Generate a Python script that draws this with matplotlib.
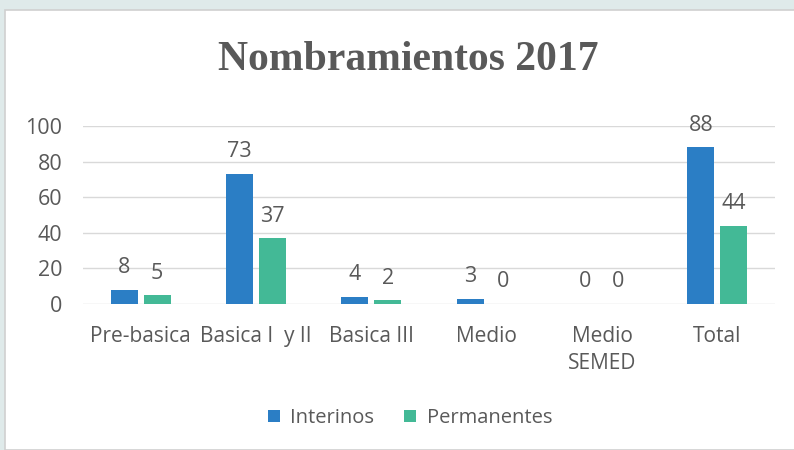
import matplotlib
matplotlib.use("Agg")
import matplotlib.pyplot as plt
import numpy as np
from matplotlib.patches import Rectangle

categories = ["Pre-basica", "Basica I  y II", "Basica III", "Medio", "Medio\nSEMED", "Total"]
interinos = [8, 73, 4, 3, 0, 88]
permanentes = [5, 37, 2, 0, 0, 44]
series_names = ["Interinos", "Permanentes"]
colors = ["#2b7ec5", "#43b996"]
yticks = [0, 20, 40, 60, 80, 100]

plt.rcParams['font.family'] = ['Open Sans', 'DejaVu Sans']
txt = "#595959"

fig = plt.figure(figsize=(7.94, 4.5), dpi=100)
fig.patch.set_facecolor("#dfeaea")
fig.patches.append(Rectangle((5/794, 0), 1, 1 - 10/450, transform=fig.transFigure,
                             facecolor="white", edgecolor="#d0d0d0", linewidth=1.2, zorder=-5))

ax = fig.add_axes([83/794, 146/450, 692/794, 178/450])
ax.set_facecolor("none")
x = np.arange(len(categories))
w = 0.235
off = 0.143
b1 = ax.bar(x - off, interinos, w, color=colors[0], label=series_names[0], zorder=3)
b2 = ax.bar(x + off, permanentes, w, color=colors[1], label=series_names[1], zorder=3)
for bars, vals in ((b1, interinos), (b2, permanentes)):
    for r, v in zip(bars, vals):
        ax.text(r.get_x() + r.get_width()/2, v + 6.5, str(v), ha="center", va="bottom",
                fontsize=15.5, color=txt, zorder=4)

ax.set_ylim(0, 100)
ax.set_xlim(-0.5, len(categories) - 0.5)
ax.set_yticks(yticks)
ax.set_xticks(x)
ax.set_xticklabels(categories, linespacing=1.35)
ax.tick_params(length=0, colors=txt)
ax.tick_params(axis='x', pad=16, labelsize=15)
ax.tick_params(axis='y', pad=15, labelsize=15.5)
ax.grid(axis='y', color="#d9d9d9", linewidth=1, zorder=0)
for s in ax.spines.values():
    s.set_visible(False)

fig.text(408/794, 1 - 60/450, "Nombramientos 2017", ha="center", va="center",
         fontsize=30, fontweight="bold", color=txt, family="Liberation Serif")

fig.legend(handles=[b1, b2], labels=series_names, loc="center", bbox_to_anchor=(410/794, 1 - 418/450),
           ncol=2, frameon=False, fontsize=14.5, labelcolor=txt, handlelength=0.6, handleheight=0.6,
           handletextpad=0.5, columnspacing=1.5)

fig.savefig("out.png", dpi=100, facecolor=fig.get_facecolor())
